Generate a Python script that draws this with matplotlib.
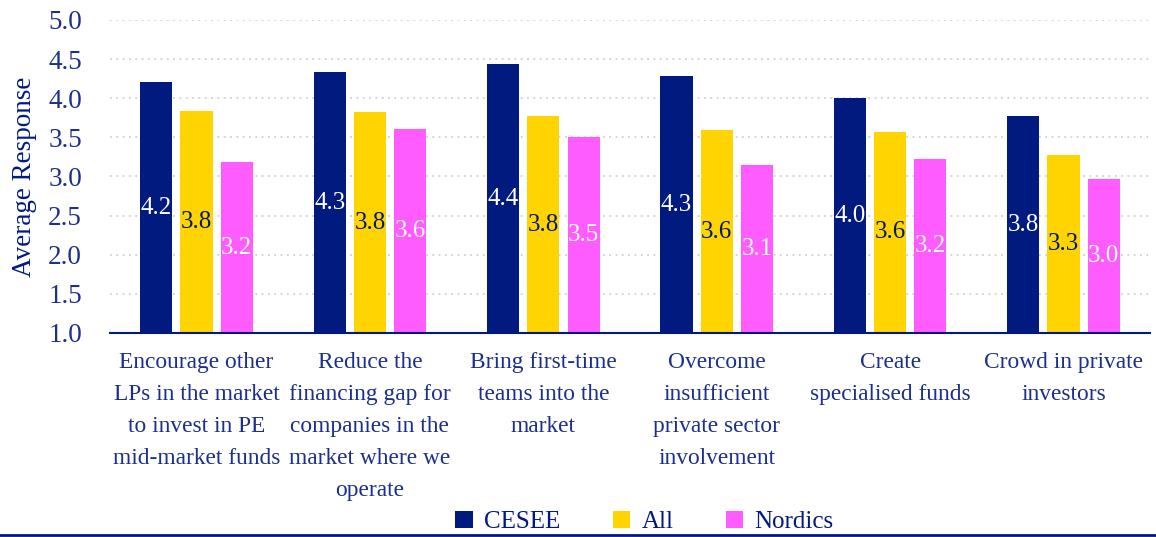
import matplotlib
matplotlib.use("Agg")
import matplotlib.pyplot as plt
import numpy as np
from matplotlib.lines import Line2D
from matplotlib.patches import Patch

categories = [
    "Encourage other\nLPs in the market\nto invest in PE\nmid-market funds",
    "Reduce the\nfinancing gap for\ncompanies in the\nmarket where we\noperate",
    "Bring first-time\nteams into the\nmarket",
    "Overcome\ninsufficient\nprivate sector\ninvolvement",
    "Create\nspecialised funds",
    "Crowd in private\ninvestors",
]
series_names = ["CESEE", "All", "Nordics"]
cesee = [4.20, 4.33, 4.43, 4.28, 4.00, 3.77]
all_vals = [3.84, 3.82, 3.77, 3.59, 3.57, 3.27]
nordics = [3.18, 3.61, 3.50, 3.14, 3.22, 2.97]
yticks = [1.0, 1.5, 2.0, 2.5, 3.0, 3.5, 4.0, 4.5, 5.0]

NAVY = "#001a80"
YELLOW = "#ffd400"
PINK = "#ff5cff"
TEXT = "#1c2f8c"
FONT = ["Liberation Serif", "DejaVu Serif"]

plt.rcParams["font.family"] = FONT

fig = plt.figure(figsize=(11.56, 5.37), dpi=100)
ax = fig.add_axes([0.095, 0.380, 0.90, 0.583])

x = np.arange(len(categories))
w = 0.185
off = 0.232
series = [cesee, all_vals, nordics]
colors = [NAVY, YELLOW, PINK]
label_colors = ["white", NAVY, "white"]
base = 1.0
for i, (vals, c, lc) in enumerate(zip(series, colors, label_colors)):
    pos = x + (i - 1) * off
    heights = [v - base for v in vals]
    ax.bar(pos, heights, bottom=base, width=w, color=c, zorder=3)
    for p, v in zip(pos, vals):
        ax.text(p, (v + base) / 2, f"{v:.1f}", ha="center", va="center",
                color=lc, fontsize=18, zorder=4)

ax.set_xlim(-0.5, len(categories) - 0.5)
ax.set_ylim(1.0, 5.0)
ax.set_yticks(yticks)
ax.set_yticklabels([f"{t:.1f}" for t in yticks], fontsize=19.5, color=TEXT)
ax.set_xticks(x)
ax.set_xticklabels(categories, fontsize=16.8, color=TEXT, linespacing=1.68, va="top")
ax.tick_params(axis="both", length=0)
ax.tick_params(axis="x", pad=14)
ax.tick_params(axis="y", pad=20)
ax.grid(axis="y", color="#d0d0d0", linestyle=(0, (1, 2.5)), linewidth=1.3, zorder=0)
for s in ["top", "right", "left"]:
    ax.spines[s].set_visible(False)
ax.spines["bottom"].set_color(NAVY)
ax.spines["bottom"].set_linewidth(1.5)
ax.spines["bottom"].set_zorder(5)
ax.set_ylabel("Average Response", fontsize=19.5, color=NAVY, labelpad=8)

handles = [Patch(facecolor=c, edgecolor="none") for c in colors]
fig.legend(handles, series_names, loc="center", bbox_to_anchor=(0.5575, 0.028),
           ncol=3, frameon=False, fontsize=18, labelcolor=NAVY,
           handlelength=0.7, handleheight=0.7, handletextpad=0.45,
           columnspacing=2.1)

fig.add_artist(Line2D([0, 1], [0.004, 0.004], transform=fig.transFigure,
                      color=NAVY, linewidth=2))

fig.savefig("out.png", dpi=100)
